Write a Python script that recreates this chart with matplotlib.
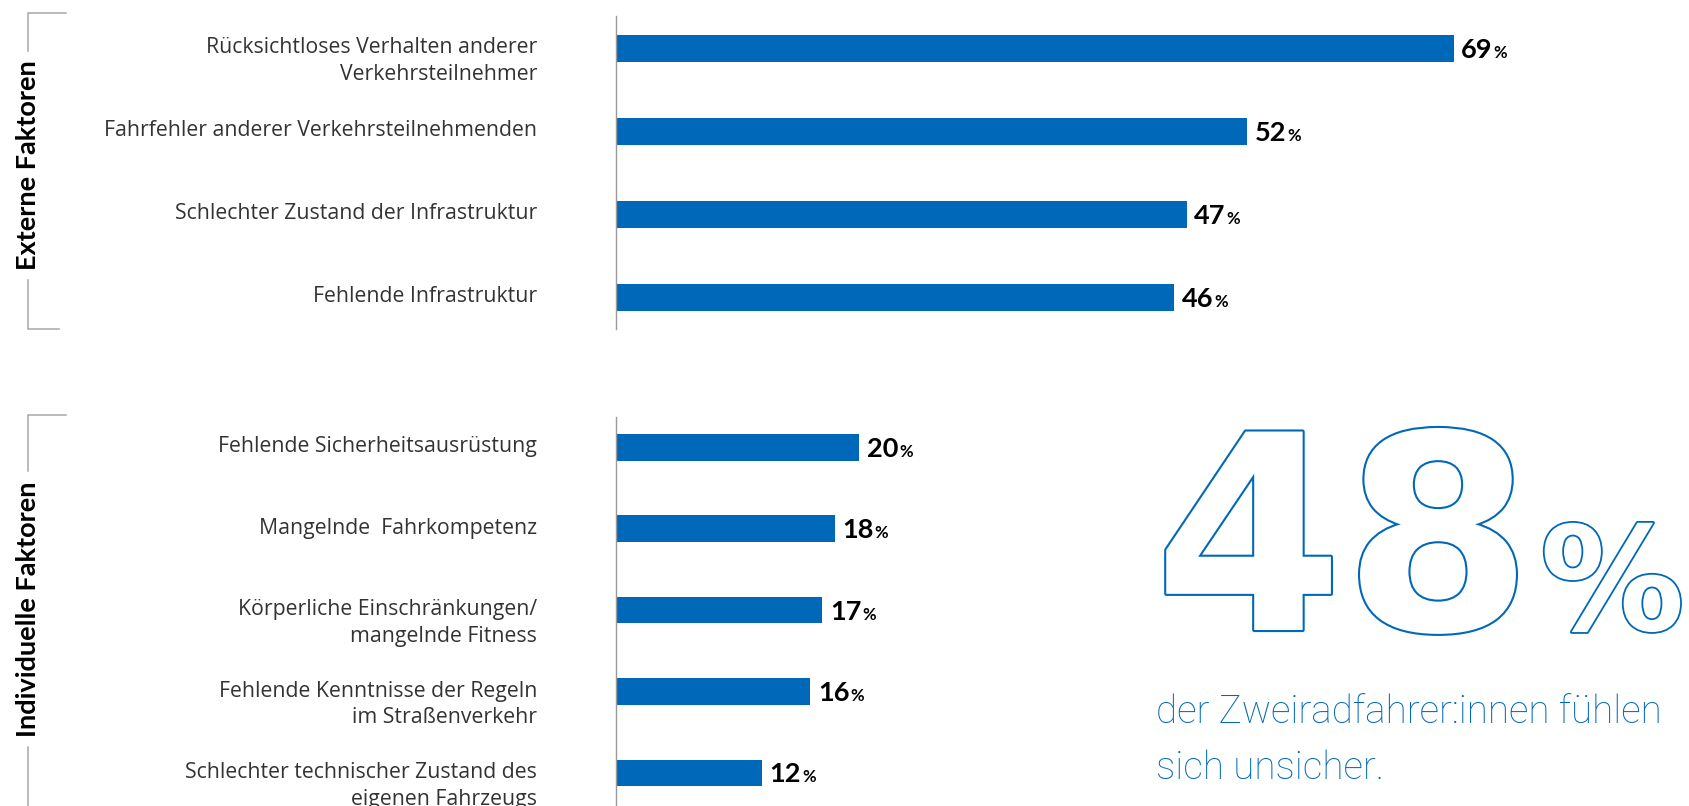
import matplotlib
matplotlib.use('Agg')
import matplotlib.pyplot as plt
import matplotlib.transforms as mtransforms
from matplotlib import patheffects as pe
from matplotlib.lines import Line2D

# ---------------- data ----------------
ext_labels = ["Rücksichtloses Verhalten anderer\nVerkehrsteilnehmer",
              "Fahrfehler anderer Verkehrsteilnehmenden",
              "Schlechter Zustand der Infrastruktur",
              "Fehlende Infrastruktur"]
ext_values = [69, 52, 47, 46]

ind_labels = ["Fehlende Sicherheitsausrüstung",
              "Mangelnde  Fahrkompetenz",
              "Körperliche Einschränkungen/\nmangelnde Fitness",
              "Fehlende Kenntnisse der Regeln\nim Straßenverkehr",
              "Schlechter technischer Zustand des\neigenen Fahrzeugs"]
ind_values = [20, 18, 17, 16, 12]

group_titles = ["Externe Faktoren", "Individuelle Faktoren"]
headline_value = "48"
headline_unit = "%"
headline_text = ["der Zweiradfahrer:innen fühlen", "sich unsicher."]

# ---------------- style ----------------
W, H = 1690, 806
BLUE = '#0068B9'
LABEL_C = '#333333'
GRAY = '#a8a8a8'
AXIS_C = '#999999'
PX_PER_PCT = 12.14
AX_LEFT = 616
LABEL_RIGHT = 537
LINE_STEP = 26.7

fig = plt.figure(figsize=(W / 100, H / 100), dpi=100)


def px_shift(dx, dy):
    return mtransforms.ScaledTranslation(dx / 100, -dy / 100, fig.dpi_scale_trans)


def make_axes(top_px, bottom_px, first_center, spacing, bar_px, labels, values):
    ax = fig.add_axes([AX_LEFT / W, 1 - bottom_px / H, (W - AX_LEFT) / W, (bottom_px - top_px) / H])
    ax.set_xlim(0, (W - AX_LEFT) / PX_PER_PCT)
    ax.set_ylim((bottom_px - first_center) / spacing, -(first_center - top_px) / spacing)
    ax.patch.set_alpha(0)
    for s in ['top', 'right', 'bottom']:
        ax.spines[s].set_visible(False)
    ax.spines['left'].set_color(AXIS_C)
    ax.spines['left'].set_linewidth(1.0)
    ax.set_xticks([])
    ax.set_yticks([])
    ys = list(range(len(values)))
    ax.barh(ys, values, height=bar_px / spacing, color=BLUE, zorder=1)
    for i, lab in enumerate(labels):
        for k, line in enumerate(lab.split('\n')):
            ax.text(0, i, line, transform=ax.get_yaxis_transform() + px_shift(-(AX_LEFT - LABEL_RIGHT), 5 + k * LINE_STEP),
                    ha='right', va='baseline', fontsize=15.3, family='Open Sans', color=LABEL_C, clip_on=False)
    nums = []
    for i, v in enumerate(values):
        t = ax.text(v, i, f"{v}", transform=ax.transData + px_shift(7.7, 9.5),
                    ha='left', va='baseline', fontsize=19.5, family='Lato', weight='bold',
                    color='black', clip_on=False)
        nums.append((t, v, i))
    return ax, nums


ax1, nums1 = make_axes(16, 329, 48.3, 83.0, 27.0, ext_labels, ext_values)
ax2, nums2 = make_axes(417, 806, 447.3, 81.4, 26.7, ind_labels, ind_values)

# group titles
title_centers = [165.5, 609.0]
titles = []
for ttl, cy in zip(group_titles, title_centers):
    titles.append(fig.text(27.7 / W, 1 - cy / H, ttl, rotation=90, ha='center', va='center',
                           fontsize=19.5, family='Lato', weight='bold', color='black'))

# headline
fig.text(1154 / W, 1 - 630 / H, headline_value, fontsize=196, family='DejaVu Sans', weight='bold',
         color='white', ha='left', va='baseline',
         path_effects=[pe.Stroke(linewidth=3, foreground=BLUE), pe.Normal()])
fig.text(1540 / W, 1 - 630 / H, headline_unit, fontsize=104, family='DejaVu Sans', weight='bold',
         color='white', ha='left', va='baseline',
         path_effects=[pe.Stroke(linewidth=2.6, foreground=BLUE), pe.Normal()])
for k, line in enumerate(headline_text):
    fig.text(1156 / W, 1 - (723 + k * 56) / H, line, fontsize=27.8, family='Roboto', weight='light',
             color=BLUE, ha='left', va='baseline')

fig.canvas.draw()

# percent signs after the numbers
for ax, nums in [(ax1, nums1), (ax2, nums2)]:
    for t, v, i in nums:
        w = t.get_window_extent().width
        ax.text(v, i, '%', transform=ax.transData + px_shift(7.7 + w + 1, 9.5),
                ha='left', va='baseline', fontsize=12, family='Lato', weight='bold',
                color='black', clip_on=False)

# brackets
brackets = [(13, 329, 65.7, 59), (415, 806, 65.7, None)]
GAP = 10
for (btop, bbot, tick_top, tick_bot), ttl in zip(brackets, titles):
    bb = ttl.get_window_extent()
    t_top = H - bb.y1
    t_bot = H - bb.y0
    xs = [tick_top, 27.7, 27.7]
    ys = [btop, btop, t_top - GAP]
    fig.add_artist(Line2D([x / W for x in xs], [1 - y / H for y in ys], transform=fig.transFigure,
                          color=GRAY, lw=1.1, solid_joinstyle='miter'))
    xs = [27.7, 27.7]
    ys = [t_bot + GAP, bbot]
    if tick_bot is not None:
        xs.append(tick_bot)
        ys.append(bbot)
    fig.add_artist(Line2D([x / W for x in xs], [1 - y / H for y in ys], transform=fig.transFigure,
                          color=GRAY, lw=1.1, solid_joinstyle='miter'))

fig.savefig('out.png', dpi=100)
